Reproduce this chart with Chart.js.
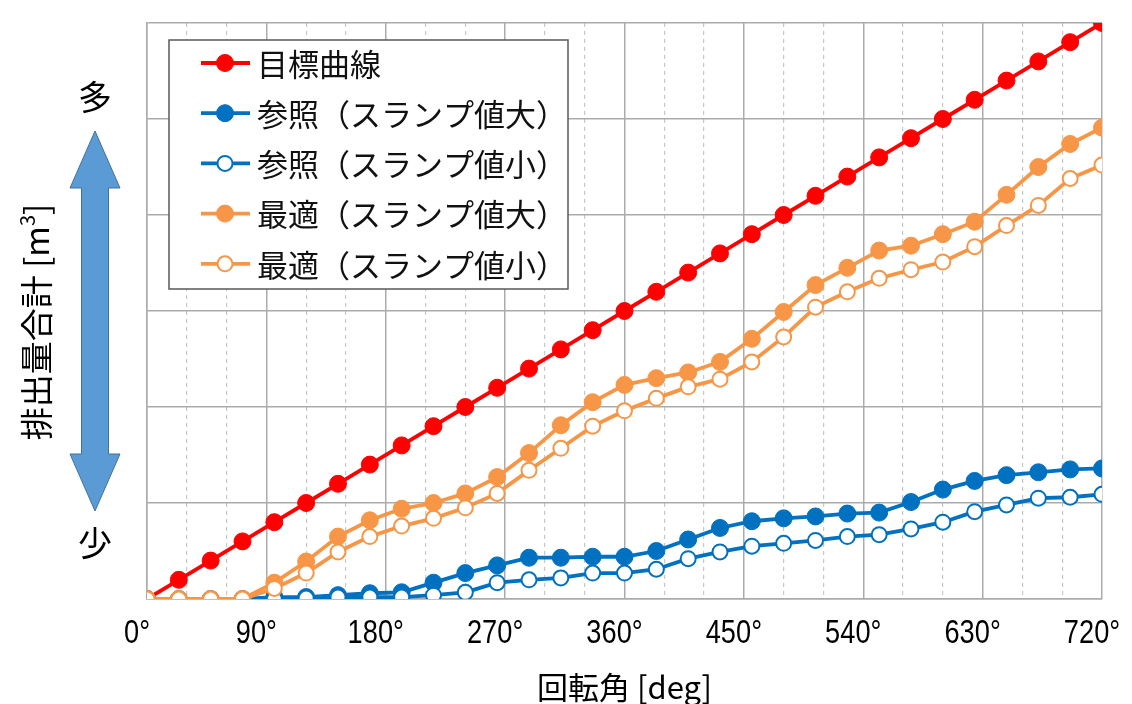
<!DOCTYPE html>
<html lang="ja">
<head>
<meta charset="utf-8">
<script src="https://cdn.jsdelivr.net/npm/chart.js@4.4.0/dist/chart.umd.min.js"></script>
<style>
  html, body { margin: 0; padding: 0; background: #fff; }
  #wrap { width: 1132px; height: 704px; }
</style>
</head>
<body>
<div id="wrap"><canvas id="c" width="1132" height="704"></canvas></div>
<script>
// rotation angle of each sample [deg]
const angles = [0, 24, 48, 72, 96, 120, 144, 168, 192, 216, 240, 264, 288, 312, 336, 360,
                384, 408, 432, 456, 480, 504, 528, 552, 576, 600, 624, 648, 672, 696, 720];

// cumulative discharge (relative units, no scale shown on the axis)
const target   = [0, 0.2, 0.4, 0.6, 0.8, 1.0, 1.2, 1.4, 1.6, 1.8, 2.0, 2.2, 2.4, 2.6, 2.8, 3.0,
                  3.2, 3.4, 3.6, 3.8, 4.0, 4.2, 4.4, 4.6, 4.8, 5.0, 5.2, 5.4, 5.6, 5.8, 6.0];
const refLarge = [0, 0, 0, 0, 0.02, 0.02, 0.04, 0.06, 0.07, 0.17, 0.27, 0.35, 0.43, 0.43, 0.44, 0.44,
                  0.50, 0.62, 0.74, 0.81, 0.84, 0.86, 0.89, 0.90, 1.01, 1.14, 1.23, 1.29, 1.32, 1.35, 1.36];
const refSmall = [0, 0, 0, 0, 0, 0.01, 0.02, 0.02, 0.02, 0.04, 0.07, 0.17, 0.20, 0.22, 0.27, 0.27,
                  0.31, 0.42, 0.49, 0.55, 0.58, 0.61, 0.65, 0.67, 0.73, 0.80, 0.91, 0.98, 1.05, 1.06, 1.09];
const optLarge = [0, 0, 0, 0, 0.17, 0.39, 0.65, 0.82, 0.94, 1.00, 1.10, 1.27, 1.52, 1.81, 2.05, 2.23,
                  2.30, 2.36, 2.47, 2.71, 2.99, 3.27, 3.45, 3.63, 3.68, 3.80, 3.93, 4.21, 4.50, 4.74, 4.91];
const optSmall = [0, 0, 0, 0, 0.11, 0.27, 0.49, 0.65, 0.76, 0.84, 0.95, 1.10, 1.34, 1.57, 1.80, 1.96,
                  2.09, 2.21, 2.29, 2.47, 2.73, 3.04, 3.20, 3.34, 3.43, 3.51, 3.67, 3.89, 4.10, 4.38, 4.52];

const seriesNames = ['目標曲線', '参照（スランプ値大）', '参照（スランプ値小）', '最適（スランプ値大）', '最適（スランプ値小）'];
const xTitle = '回転角 [deg]';
const yTitle = '排出量合計 [m';
const yMore = '多';
const yLess = '少';

const RED = '#ff0000', BLUE = '#0070c0', ORANGE = '#f79646';
const JP = "'Noto Sans CJK JP', 'Noto Sans', sans-serif";
const LATIN = "'Liberation Sans', Arial, sans-serif";

function series(label, values, color, open, order) {
    return {
        label,
        data: values.map((v, i) => ({ x: angles[i], y: v })),
        xAxisID: 'x',
        borderColor: color,
        borderWidth: 3.8,
        pointRadius: open ? 7.5 : 8.5,
        pointBorderWidth: open ? 2 : 1,
        pointBackgroundColor: open ? '#ffffff' : color,
        pointBorderColor: color,
        tension: 0,
        order,
        _open: open,
    };
}

// legend box drawn inside the plot area
const boxLegend = {
    id: 'boxLegend',
    afterDraw(chart) {
        const ctx = chart.ctx;
        const ca = chart.chartArea;
        const x0 = ca.left + 22, y0 = ca.top + 17, w = 399, h = 249;
        ctx.save();
        ctx.fillStyle = '#fff';
        ctx.fillRect(x0, y0, w, h);
        ctx.strokeStyle = '#595959';
        ctx.lineWidth = 1.5;
        ctx.strokeRect(x0, y0, w, h);
        chart.data.datasets.forEach((ds, i) => {
            const y = y0 + 23 + i * 50.2;
            ctx.strokeStyle = ds.borderColor;
            ctx.lineWidth = 3.8;
            ctx.beginPath();
            ctx.moveTo(x0 + 32, y);
            ctx.lineTo(x0 + 81, y);
            ctx.stroke();
            ctx.beginPath();
            ctx.arc(x0 + 56, y, ds._open ? 7.5 : 8.5, 0, Math.PI * 2);
            ctx.fillStyle = ds.pointBackgroundColor;
            ctx.fill();
            ctx.lineWidth = ds.pointBorderWidth;
            ctx.strokeStyle = ds.borderColor;
            ctx.stroke();
            ctx.fillStyle = '#111';
            ctx.font = '31px ' + JP;
            ctx.textBaseline = 'middle';
            ctx.textAlign = 'left';
            ctx.fillText(ds.label, x0 + 88, y + 1);
        });
        ctx.restore();
    }
};

// condensed tick labels and the x title, placed from the major x scale
const xLabels = {
    id: 'xLabels',
    afterDraw(chart) {
        const ctx = chart.ctx;
        const sc = chart.scales.xMajor;
        const ca = chart.chartArea;
        ctx.save();
        ctx.fillStyle = '#000';
        ctx.textAlign = 'center';
        ctx.textBaseline = 'middle';
        ctx.font = '34px ' + LATIN;
        sc.ticks.forEach(t => {
            const px = sc.getPixelForValue(t.value) - 10;
            ctx.save();
            ctx.translate(px, ca.bottom + 35);
            ctx.scale(0.8, 1);
            ctx.fillText(t.value + '°', 0, 0);
            ctx.restore();
        });
        ctx.font = '31px ' + JP;
        ctx.fillText(xTitle, (ca.left + ca.right) / 2, ca.bottom + 88);
        ctx.restore();
    }
};

// y title, arrow and 多/少 marks left of the plot
const leftSide = {
    id: 'leftSide',
    afterDraw(chart) {
        const ctx = chart.ctx;
        ctx.save();
        ctx.fillStyle = '#000';
        ctx.textAlign = 'center';
        ctx.textBaseline = 'middle';
        ctx.font = '34px ' + JP;
        ctx.fillText(yMore, 95, 97);
        ctx.fillText(yLess, 95, 543);

        // double arrow
        const cx = 95;
        ctx.beginPath();
        ctx.moveTo(cx, 131);
        ctx.lineTo(cx + 25, 188);
        ctx.lineTo(cx + 13.5, 188);
        ctx.lineTo(cx + 13.5, 454);
        ctx.lineTo(cx + 25, 454);
        ctx.lineTo(cx, 511);
        ctx.lineTo(cx - 25, 454);
        ctx.lineTo(cx - 13.5, 454);
        ctx.lineTo(cx - 13.5, 188);
        ctx.lineTo(cx - 25, 188);
        ctx.closePath();
        ctx.fillStyle = '#5b9bd5';
        ctx.fill();
        ctx.strokeStyle = '#41719c';
        ctx.lineWidth = 1;
        ctx.stroke();

        // rotated axis title with superscript
        ctx.translate(36, 322);
        ctx.rotate(-Math.PI / 2);
        ctx.font = '33px ' + JP;
        const w1 = ctx.measureText(yTitle).width;
        ctx.font = '20px ' + JP;
        const w2 = ctx.measureText('3').width;
        ctx.font = '33px ' + JP;
        const w3 = ctx.measureText(']').width;
        let x = -(w1 + w2 + w3) / 2;
        ctx.textAlign = 'left';
        ctx.fillStyle = '#000';
        ctx.fillText(yTitle, x, 0);
        x += w1;
        ctx.font = '20px ' + JP;
        ctx.fillText('3', x, -9);
        x += w2;
        ctx.font = '33px ' + JP;
        ctx.fillText(']', x, 0);
        ctx.restore();
    }
};

new Chart(document.getElementById('c'), {
    type: 'line',
    data: {
        datasets: [
            series(seriesNames[0], target, RED, false, 5),
            series(seriesNames[1], refLarge, BLUE, false, 4),
            series(seriesNames[2], refSmall, BLUE, true, 3),
            series(seriesNames[3], optLarge, ORANGE, false, 2),
            series(seriesNames[4], optSmall, ORANGE, true, 1),
        ]
    },
    options: {
        responsive: false,
        animation: false,
        layout: { padding: { left: 147, top: 23, right: 30, bottom: 105 } },
        plugins: { legend: { display: false }, tooltip: { enabled: false } },
        scales: {
            x: {
                type: 'linear',
                position: 'bottom',
                min: 0,
                max: 720,
                ticks: { stepSize: 30, display: false },
                grid: {
                    drawTicks: false,
                    lineWidth: 1.2,
                    color: c => (c.tick && c.tick.value % 90 === 0) ? 'rgba(0,0,0,0)' : '#c8c8c8',
                },
                border: { display: false, dash: [4, 4] },
            },
            xMajor: {
                type: 'linear',
                position: 'bottom',
                min: 0,
                max: 720,
                ticks: { stepSize: 90, display: false },
                grid: { drawTicks: false, color: '#ababab', lineWidth: 1.5 },
                border: { color: '#ababab', width: 1.5 },
            },
            y: {
                min: 0,
                max: 6,
                ticks: { stepSize: 1, display: false },
                grid: { drawTicks: false, color: '#ababab', lineWidth: 1.5 },
                border: { color: '#ababab', width: 1.5 },
            },
        },
    },
    plugins: [boxLegend, xLabels, leftSide],
});
</script>
</body>
</html>
